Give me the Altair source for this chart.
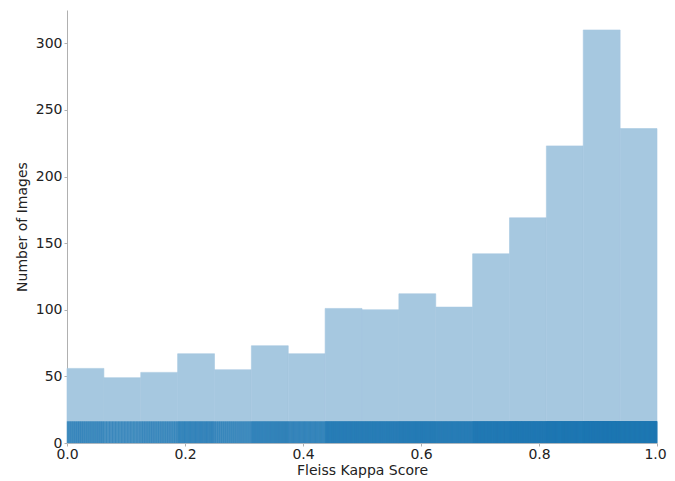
import altair as alt
import pandas as pd

bin_starts = [i * 0.0625 for i in range(16)]
counts = [56, 49, 53, 67, 55, 73, 67, 101, 100, 112, 102, 142, 169, 223, 310, 236]

bins = pd.DataFrame({
    "start": bin_starts,
    "end": [s + 0.0625 for s in bin_starts],
    "count": counts,
})

# rug: one tick per image, spread through its bin
rug_vals = []
for s, c in zip(bin_starts, counts):
    for i in range(c):
        rug_vals.append(s + (i + 0.5) / c * 0.0625)
rug = pd.DataFrame({"v": rug_vals})

W, H = 590, 433
xs = alt.Scale(domain=[0, 1], nice=False, zero=False)
ys = alt.Scale(domain=[0, 325], nice=False)

axis_common = dict(
    labelFont="DejaVu Sans", titleFont="DejaVu Sans",
    labelFontSize=14, titleFontSize=14, labelColor="#222222",
    titleColor="#222222", titleFontWeight="normal",
    domainColor="#b0b0b0", tickColor="#b0b0b0", tickSize=3,
    grid=False, labelFlush=False,
)

hist = alt.Chart(bins).mark_rect(color="#a6c8e0", stroke="#a6c8e0", strokeWidth=0.6).encode(
    x=alt.X("start:Q", scale=xs,
            axis=alt.Axis(title="Fleiss Kappa Score", values=[0, 0.2, 0.4, 0.6, 0.8, 1.0],
                          format=".1f", titlePadding=2, labelPadding=1,
                          labelOffset=alt.ExprRef("datum.value == 1 ? -2 : 0"),
                          **axis_common)),
    x2="end:Q",
    y=alt.Y("count:Q", scale=ys,
            axis=alt.Axis(title="Number of Images", values=[0, 50, 100, 150, 200, 250, 300],
                          titlePadding=6, **axis_common)),
    y2=alt.datum(0),
)

rugs = alt.Chart(rug).mark_rule(color="#1f77b4", strokeWidth=1, opacity=0.7).encode(
    x=alt.X("v:Q", scale=xs),
    y=alt.value(H),
    y2=alt.value(H - 0.05 * H),
)

chart = (hist + rugs).properties(
    width=W, height=H,
    autosize=alt.AutoSizeParams(type="none"),
    padding={"left": 59, "top": 2, "right": 10, "bottom": 36},
).configure_view(stroke=None)

chart.save("out.html", embed_options={"renderer": "svg", "actions": False})
